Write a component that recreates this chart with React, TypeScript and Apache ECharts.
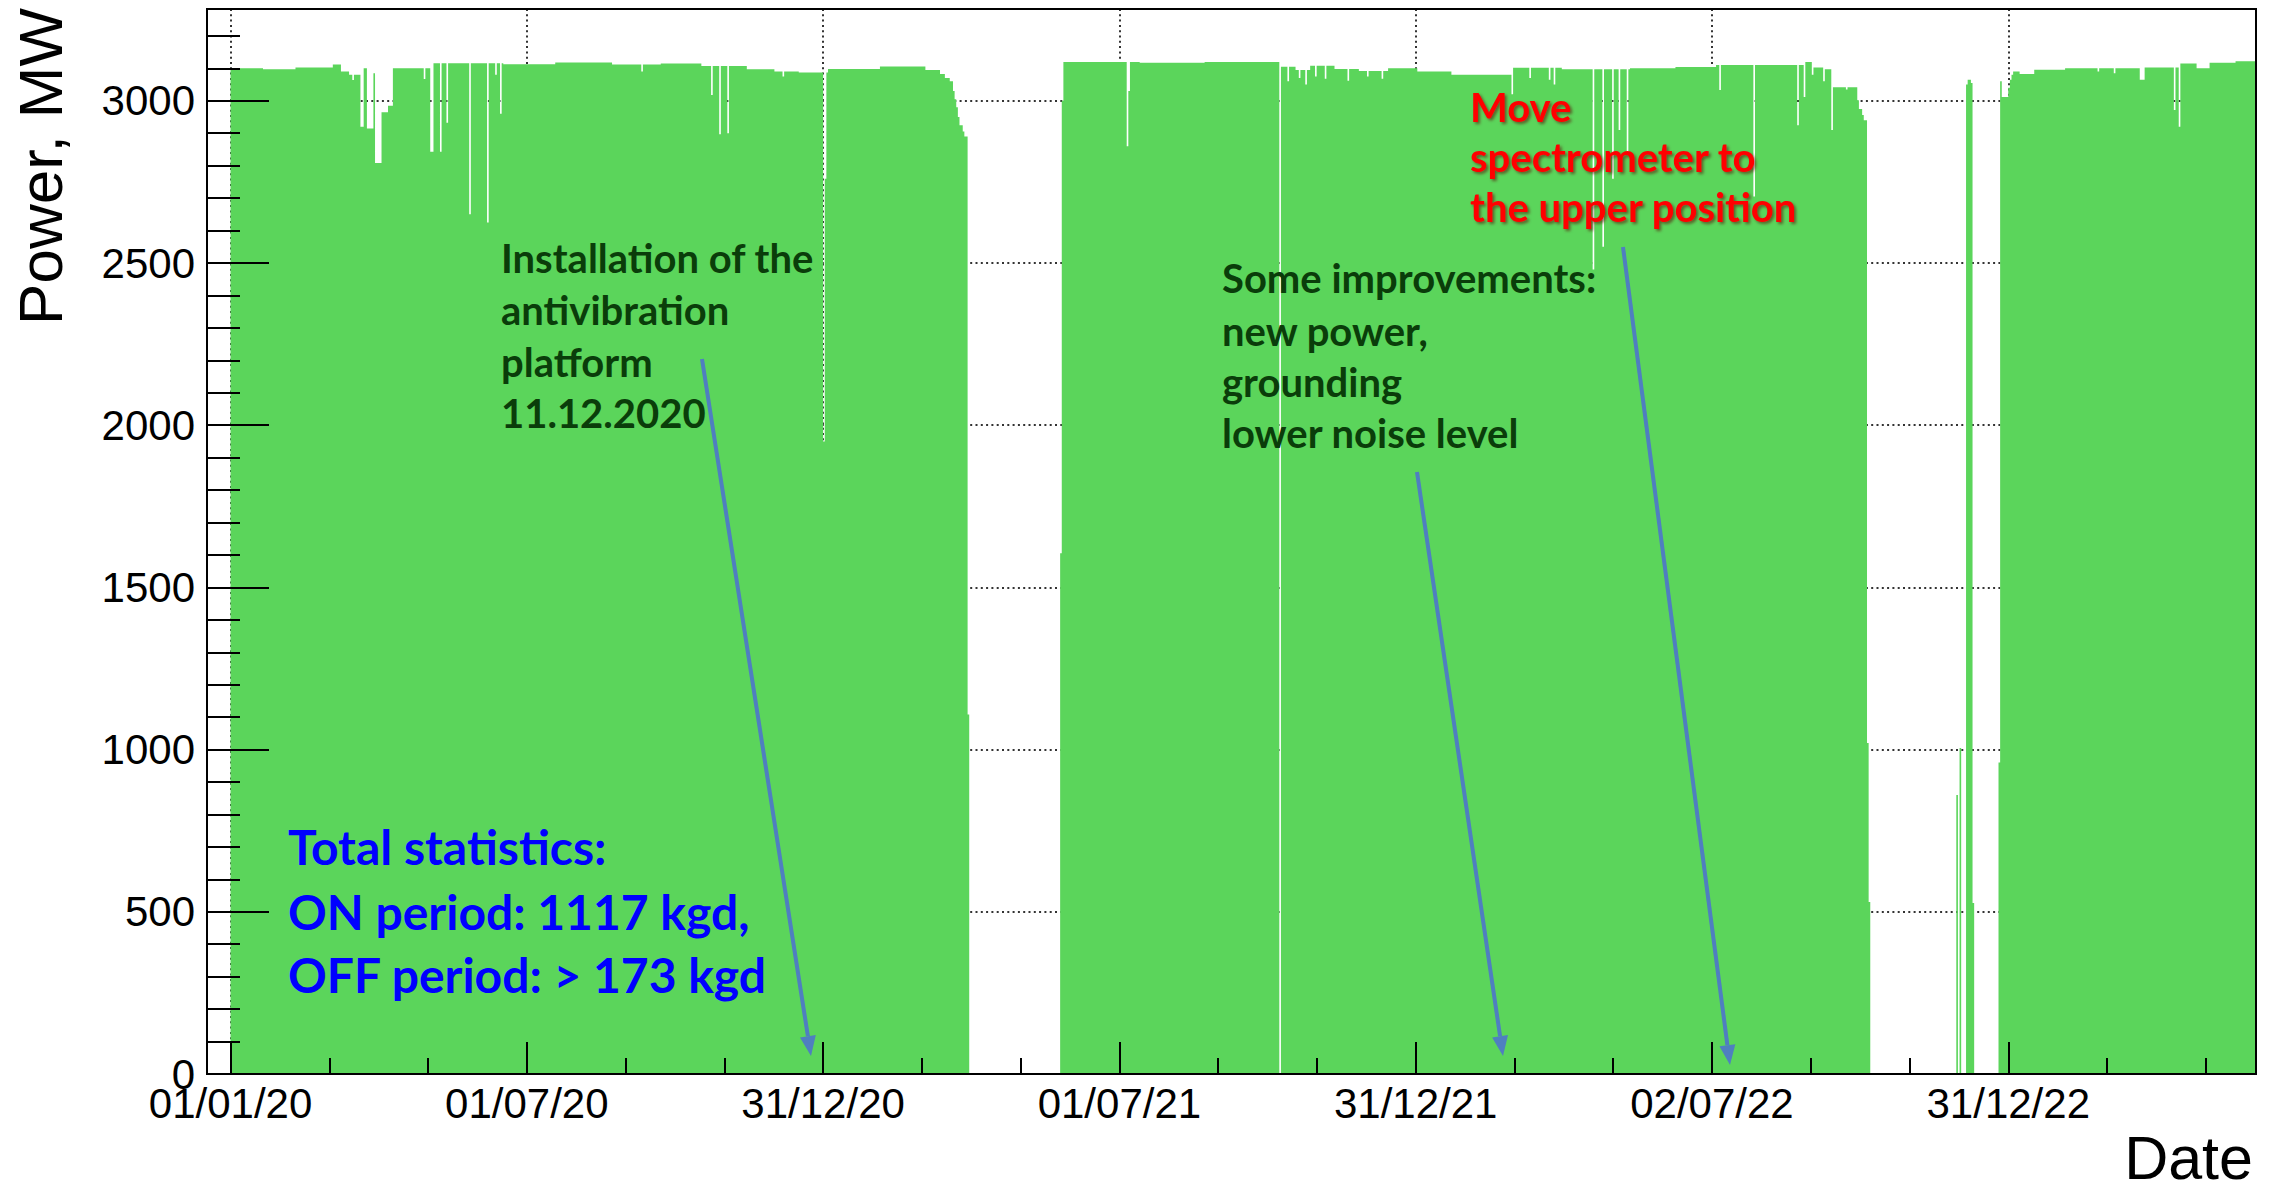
import React, { useEffect, useRef } from "react";
import * as echarts from "echarts";

// ---- axis ranges (x in days since 01/01/2020, y in MW) ----
const X_MIN = -14.5;
const X_MAX = 1247.6;
const Y_MAX = 3283;
const LAST_DAY = 1247;

const xMajorTickDays = [0, 182.5, 365, 547.5, 730, 912.5, 1095];
const xTickLabels = ["01/01/20", "01/07/20", "31/12/20", "01/07/21", "31/12/21", "02/07/22", "31/12/22"];
const xMinorTickDays = [
  60.83, 121.67, 243.33, 304.17, 425.83, 486.67, 608.33, 669.17, 790.83, 851.67, 973.33, 1034.17, 1155.83,
  1216.67,
];
const yMajorTicks = [0, 500, 1000, 1500, 2000, 2500, 3000];
const yMinorTicks = [
  100, 200, 300, 400, 600, 700, 800, 900, 1100, 1200, 1300, 1400, 1600, 1700, 1800, 1900, 2100, 2200, 2300, 2400,
  2600, 2700, 2800, 2900, 3100, 3200,
];

// Reactor power level: [first day, MW] — held until the next entry
const powerSteps: [number, number][] = [
  [0, 3100], [20, 3097], [40, 3103], [63, 3112], [68, 3090], [73, 3080], [80, 2920], [82, 3100], [84, 2915],
  [88, 3085], [89, 2808], [93, 2965], [97, 2985], [100, 3100], [125, 3116], [168, 3113], [200, 3118],
  [235, 3112], [265, 3115], [290, 3107], [318, 3097], [335, 3090], [350, 3087], [368, 3098], [400, 3106],
  [428, 3095], [437, 3083], [440, 3070], [443, 3060], [445, 3030], [446, 3005], [447, 2980], [448, 2950],
  [449, 2925], [451, 2905], [452, 2890], [454, 1108], [455, 0],
  [511, 1605], [512, 3000], [513, 3120], [560, 3117], [600, 3120], [647, 3105], [656, 3095], [665, 3108],
  [680, 3098], [695, 3092], [713, 3100], [731, 3090], [752, 3080], [790, 3102], [820, 3097], [862, 3100],
  [890, 3104], [915, 3110], [970, 3120], [975, 3103], [982, 3097], [987, 3042], [1002, 3002], [1003, 2975],
  [1005, 2956], [1006, 2940], [1008, 1020], [1009, 530], [1010, 0],
  [1069, 3050], [1070, 3065], [1072, 3055], [1073, 527], [1074, 0],
  [1089, 960], [1090, 3060], [1091, 3012], [1095, 3040], [1096, 3065], [1097, 3080], [1098, 3090],
  [1102, 3083], [1111, 3096], [1130, 3100], [1176, 3065], [1179, 3103], [1201, 3115], [1211, 3100],
  [1219, 3117], [1235, 3122],
];

// Single days with reduced power: [day, MW]
const singleDayDips: [number, number][] = [
  [75, 3064], [119, 3067], [123, 2843], [124, 2843], [129, 2843], [133, 2932], [147, 2650], [158, 2625],
  [163, 3080], [166, 2960], [253, 3090], [296, 3018], [301, 2897], [306, 2900], [340, 3075], [365, 1950],
  [366, 2760],
  [552, 2860], [553, 3030], [646, 0], [651, 3060], [658, 3070], [662, 3050], [668, 3075], [674, 3068],
  [688, 3062], [700, 3075], [709, 3068], [789, 3020], [800, 3070], [812, 3065], [815, 3050], [839, 2480],
  [845, 2550], [851, 2760], [855, 2910], [860, 2840], [917, 3033], [938, 2705], [965, 2925], [969, 3012],
  [974, 3080], [981, 3060], [986, 2910], [995, 3035],
  [1063, 860], [1065, 1005],
  [1150, 3090], [1160, 3085], [1197, 2972], [1200, 2920],
];

function buildDailyPower(): [number, number][] {
  const vals: number[] = [];
  let si = 0;
  let level = 0;
  for (let d = 0; d <= LAST_DAY; d++) {
    while (si < powerSteps.length && powerSteps[si][0] <= d) {
      level = powerSteps[si][1];
      si++;
    }
    vals.push(level);
  }
  for (const [d, v] of singleDayDips) vals[d] = v;
  const pts: [number, number][] = vals.map((v, d) => [d, v]);
  // closing edge of the last daily bin
  pts.push([LAST_DAY + 1, vals[LAST_DAY]]);
  return pts;
}

// ---- layout ----
const W = 2271;
const H = 1184;
const GRID = { left: 207, top: 9, right: 15, bottom: 110 };
const PLOT_W = W - GRID.left - GRID.right;
const PLOT_H = H - GRID.top - GRID.bottom;

const FILL = "#5bd55b";
const AXIS_FONT = "Liberation Sans";
const NOTE_FONT = "Lato";
const ARROW = "#4f7fc0";

function labelFor(v: number): string {
  const i = xMajorTickDays.findIndex((t) => Math.abs(t - v) < 0.01);
  return i >= 0 ? xTickLabels[i] : "";
}

const tickLine = { color: "#000", width: 2 };
const gridDots = { color: "#333", width: 2, type: [2, 3.3] as number[] };

function tickAxis(kind: "x" | "y", values: number[], length: number) {
  const base: any = {
    type: "value",
    gridIndex: 0,
    z: 5,
    axisLine: { show: false, onZero: false },
    axisTick: { show: true, inside: true, length, customValues: values, lineStyle: tickLine },
    axisLabel: { show: false },
    splitLine: { show: false },
  };
  if (kind === "x") return { ...base, position: "bottom", min: X_MIN, max: X_MAX };
  return { ...base, position: "left", min: 0, max: Y_MAX };
}

function noteLines(lines: string[], x: number, baselines: number[], size: number, style: any) {
  return lines.map((t, i) => ({
    type: "text",
    x,
    y: baselines[i] - 0.387 * size,
    z: 50,
    style: {
      text: t,
      fontFamily: NOTE_FONT,
      fontWeight: "bold",
      fontSize: size,
      align: "left",
      verticalAlign: "middle",
      ...style,
    },
  }));
}

function arrow(x1: number, y1: number, x2: number, y2: number) {
  const len = Math.hypot(x2 - x1, y2 - y1);
  const ux = (x2 - x1) / len;
  const uy = (y2 - y1) / len;
  const headL = 20;
  const headW = 8;
  const bx = x2 - ux * headL;
  const by = y2 - uy * headL;
  const px = -uy;
  const py = ux;
  return [
    {
      type: "line",
      z: 40,
      shape: { x1, y1, x2: bx, y2: by },
      style: { stroke: ARROW, lineWidth: 4 },
    },
    {
      type: "polygon",
      z: 40,
      shape: {
        points: [
          [x2, y2],
          [bx + px * headW, by + py * headW],
          [bx - px * headW, by - py * headW],
        ],
      },
      style: { fill: ARROW },
    },
  ];
}

export default function App() {
  const ref = useRef<HTMLDivElement>(null);

  useEffect(() => {
    if (!ref.current) return;
    const chart = echarts.init(ref.current, undefined, { renderer: "svg" });

    const darkGreen = { fill: "#0a3d0a" };
    const red = {
      fill: "#ff0000",
      textShadowColor: "rgba(90,0,0,0.55)",
      textShadowBlur: 3,
      textShadowOffsetX: 2,
      textShadowOffsetY: 2,
    };
    const blue = { fill: "#0000ff" };

    const option: any = {
      animation: false,
      backgroundColor: "#ffffff",
      grid: {
        left: GRID.left,
        top: GRID.top,
        right: GRID.right,
        bottom: GRID.bottom,
        containLabel: false,
        outerBoundsMode: "none",
      },
      xAxis: [
        {
          type: "value",
          position: "bottom",
          min: X_MIN,
          max: X_MAX,
          axisLine: { show: true, onZero: false, lineStyle: tickLine },
          axisTick: { show: false, customValues: xMajorTickDays },
          axisLabel: {
            show: true,
            customValues: xMajorTickDays,
            formatter: (v: number) => labelFor(v),
            color: "#000",
            fontFamily: AXIS_FONT,
            fontSize: 42,
            margin: 8,
          },
          splitLine: { show: true, lineStyle: gridDots },
        },
        tickAxis("x", xMajorTickDays, 32),
        tickAxis("x", xMinorTickDays, 16),
      ],
      yAxis: [
        {
          type: "value",
          position: "left",
          min: 0,
          max: Y_MAX,
          axisLine: { show: true, onZero: false, lineStyle: tickLine },
          axisTick: { show: false, customValues: yMajorTicks },
          axisLabel: {
            show: true,
            customValues: yMajorTicks,
            formatter: (v: number) => String(Math.round(v)),
            color: "#000",
            fontFamily: AXIS_FONT,
            fontSize: 42,
            margin: 12,
          },
          splitLine: { show: true, lineStyle: gridDots },
        },
        tickAxis("y", yMajorTicks, 62),
        tickAxis("y", yMinorTicks, 33),
      ],
      series: [
        {
          type: "line",
          name: "Power",
          xAxisIndex: 0,
          yAxisIndex: 0,
          step: "end",
          data: buildDailyPower(),
          showSymbol: false,
          symbol: "none",
          silent: true,
          clip: true,
          z: 2,
          lineStyle: { width: 0, color: FILL },
          areaStyle: { color: FILL, opacity: 1 },
        },
      ],
      graphic: [
        // plot frame
        {
          type: "rect",
          z: 60,
          silent: true,
          shape: { x: GRID.left, y: GRID.top, width: PLOT_W, height: PLOT_H },
          style: { fill: "none", stroke: "#000", lineWidth: 2 },
        },
        // axis titles
        {
          type: "text",
          x: 40.5,
          y: 8,
          rotation: Math.PI / 2,
          z: 50,
          style: {
            text: "Power, MW",
            fontFamily: AXIS_FONT,
            fontSize: 62,
            fill: "#000",
            align: "right",
            verticalAlign: "middle",
          },
        },
        {
          type: "text",
          x: 2253,
          y: 1179 - 0.347 * 61,
          z: 50,
          style: {
            text: "Date",
            fontFamily: AXIS_FONT,
            fontSize: 61,
            lineHeight: 48,
            fill: "#000",
            align: "right",
            verticalAlign: "middle",
          },
        },
        ...noteLines(
          ["Installation of the", "antivibration", "platform", "11.12.2020"],
          501,
          [273, 325, 377, 428],
          40,
          darkGreen
        ),
        ...noteLines(
          ["Some improvements:", "new power,", "grounding", "lower noise level"],
          1222,
          [293, 346, 397, 448],
          40,
          darkGreen
        ),
        ...noteLines(["Move", "spectrometer to", "the upper position"], 1470, [122, 172, 222], 40, red),
        ...noteLines(
          ["Total statistics:", "ON period: 1117 kgd,", "OFF period: > 173 kgd"],
          288,
          [865, 930, 993],
          48,
          blue
        ),
        ...arrow(702, 359, 811, 1056),
        ...arrow(1417, 472, 1503, 1056),
        ...arrow(1623, 247, 1730, 1065),
      ],
    };

    chart.setOption(option);
    return () => chart.dispose();
  }, []);

  return (
    <div
      ref={ref}
      style={{ position: "fixed", left: 0, top: 0, width: W, height: H, background: "#fff" }}
    />
  );
}
